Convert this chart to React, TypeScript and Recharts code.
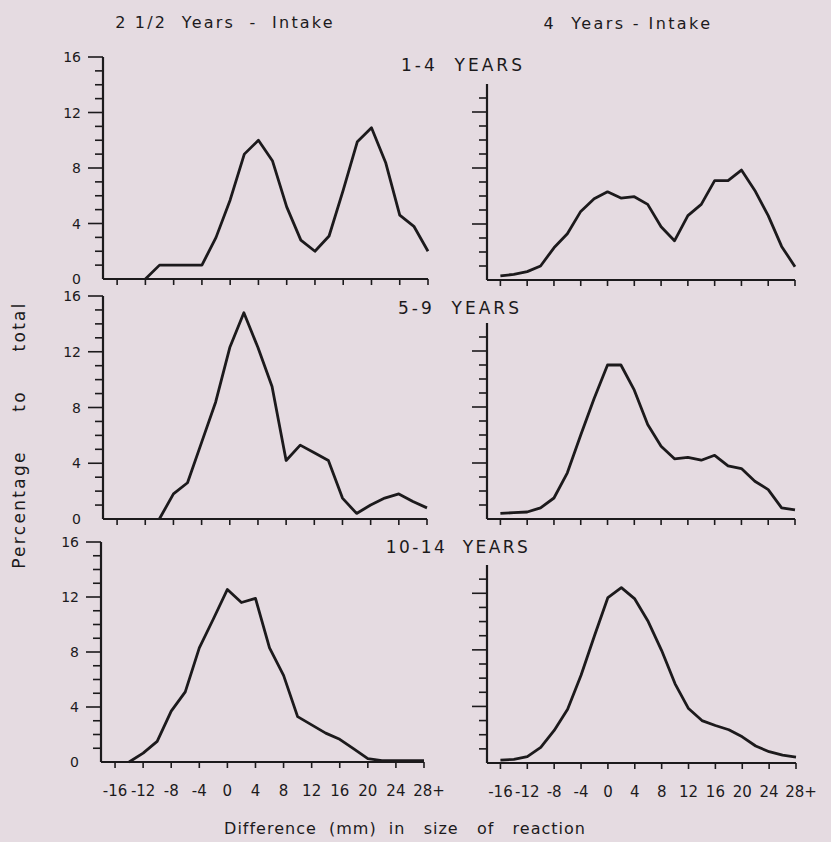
import React from 'react';
import { LineChart, Line, XAxis, YAxis } from 'recharts';

// difference (mm) in size of reaction, 2 mm steps; last bin is "28+"
const DIFF_MM = [-16, -14, -12, -10, -8, -6, -4, -2, 0, 2, 4, 6, 8, 10, 12, 14, 16, 18, 20, 22, 24, 26, 28];

// percentage to total (null = no line drawn there)
const INTAKE_2H_AGE_1_4 = [null, null, 0, 1, 1, 1, 1, 3, 5.7, 9, 10, 8.5, 5.2, 2.8, 2, 3.1, 6.4, 9.9, 10.9, 8.4, 4.6, 3.8, 2];
const INTAKE_4_AGE_1_4 = [0.3, 0.4, 0.6, 1.0, 2.3, 3.3, 4.9, 5.8, 6.3, 5.85, 5.95, 5.4, 3.8, 2.8, 4.6, 5.4, 7.1, 7.1, 7.85, 6.4, 4.6, 2.4, 0.95];
const INTAKE_2H_AGE_5_9 = [null, null, null, 0, 1.8, 2.6, 5.5, 8.4, 12.3, 14.8, 12.3, 9.5, 4.2, 5.3, 4.75, 4.2, 1.5, 0.4, 1.0, 1.5, 1.8, 1.25, 0.8];
const INTAKE_4_AGE_5_9 = [0.4, 0.45, 0.5, 0.8, 1.5, 3.3, 6.0, 8.6, 11.0, 11.0, 9.2, 6.75, 5.2, 4.3, 4.4, 4.2, 4.55, 3.8, 3.6, 2.7, 2.1, 0.8, 0.65];
const INTAKE_2H_AGE_10_14 = [null, 0, 0.65, 1.5, 3.7, 5.1, 8.3, 10.4, 12.55, 11.6, 11.9, 8.3, 6.3, 3.3, 2.7, 2.1, 1.65, 0.95, 0.25, 0.1, 0.1, 0.1, 0.1];
const INTAKE_4_AGE_10_14 = [0.2, 0.26, 0.45, 1.1, 2.3, 3.8, 6.2, 9.0, 11.7, 12.4, 11.6, 10.0, 7.95, 5.6, 3.85, 3.0, 2.65, 2.35, 1.85, 1.2, 0.8, 0.55, 0.42];

const X_TICKS = [-16, -12, -8, -4, 0, 4, 8, 12, 16, 20, 24, 28];
const Y_TICKS_LEFT = [0, 1, 2, 3, 4, 5, 6, 7, 8, 9, 10, 11, 12, 13, 14, 15, 16];
const Y_TICKS_RIGHT = [1, 2, 3, 4, 5, 6, 7, 8, 9, 10, 11, 12, 13];

const INK = '#1c1a1c';
const PAPER = '#e5dbe1';
const FONT = '"DejaVu Sans", sans-serif';

const toRows = (vals: (number | null)[]) => DIFF_MM.map((d, i) => ({ d, v: vals[i] }));

const makeYTick = (labels: boolean) => (props: any) => {
  const { x, y, payload } = props;
  const v = payload.value;
  const major = v % 4 === 0;
  const len = major ? 15 : 8;
  return (
    <g>
      {v !== 0 && <line x1={x - len} x2={x} y1={y} y2={y} stroke={INK} strokeWidth={1.6} />}
      {labels && major && (
        <text x={x - 22} y={y} dy={5} textAnchor="end" fill={INK} fontSize={14} fontFamily={FONT}>
          {v}
        </text>
      )}
    </g>
  );
};

const makeXTick = (labels: boolean) => (props: any) => {
  const { x, y, payload } = props;
  const v = payload.value;
  return (
    <g>
      <line x1={x} x2={x} y1={y} y2={y + 6} stroke={INK} strokeWidth={1.6} />
      {labels && (
        <text x={v === 28 ? x + 5 : x} y={y + 34} textAnchor="middle" fill={INK} fontSize={15} fontFamily={FONT}>
          {v === 28 ? '28+' : String(v)}
        </text>
      )}
    </g>
  );
};

const panels = [
  { id: 'tl', vals: INTAKE_2H_AGE_1_4, left: 103, top: 57, w: 325, h: 222, yMax: 16, isLeft: true, bottom: false },
  { id: 'tr', vals: INTAKE_4_AGE_1_4, left: 487, top: 84, w: 308, h: 196, yMax: 14, isLeft: false, bottom: false },
  { id: 'ml', vals: INTAKE_2H_AGE_5_9, left: 103, top: 296, w: 324, h: 223, yMax: 16, isLeft: true, bottom: false },
  { id: 'mr', vals: INTAKE_4_AGE_5_9, left: 487, top: 323, w: 308, h: 196, yMax: 14, isLeft: false, bottom: false },
  { id: 'bl', vals: INTAKE_2H_AGE_10_14, left: 101, top: 542, w: 323, h: 220, yMax: 16, isLeft: true, bottom: true },
  { id: 'br', vals: INTAKE_4_AGE_10_14, left: 487, top: 565, w: 309, h: 198, yMax: 14, isLeft: false, bottom: true },
];

const labels = [
  { text: '2 1/2  Years  -  Intake', cx: 225, cy: 23, size: 16, ls: 2.2 },
  { text: '4  Years - Intake', cx: 628, cy: 24, size: 16, ls: 2.4 },
  { text: '1-4  YEARS', cx: 463, cy: 65, size: 17, ls: 3 },
  { text: '5-9  YEARS', cx: 460, cy: 308, size: 17, ls: 3 },
  { text: '10-14  YEARS', cx: 458, cy: 547, size: 17, ls: 2.4 },
  { text: 'Difference  (mm)  in   size   of   reaction', cx: 405, cy: 829, size: 16, ls: 1 },
];

const ML = 60;
const MT = 10;
const MR = 30;
const XH = 45;

export default function App() {
  return (
    <div style={{ position: 'absolute', left: 0, top: 0, width: 831, height: 842, background: PAPER, overflow: 'hidden' }}>
      {panels.map((p) => (
        <div key={p.id} style={{ position: 'absolute', left: p.left - ML, top: p.top - MT }}>
          <LineChart
            width={p.w + ML + MR}
            height={p.h + MT + XH}
            data={toRows(p.vals)}
            margin={{ top: MT, right: MR, bottom: 0, left: 0 }}
            style={{ overflow: 'visible' }}
          >
            <XAxis
              dataKey="d"
              type="number"
              domain={[-18, 28]}
              ticks={X_TICKS}
              interval={0}
              height={XH}
              tickSize={0}
              tickMargin={0}
              tickLine={false}
              axisLine={{ stroke: INK, strokeWidth: 2.2 }}
              tick={makeXTick(p.bottom)}
            />
            <YAxis
              type="number"
              domain={[0, p.yMax]}
              ticks={p.isLeft ? Y_TICKS_LEFT : Y_TICKS_RIGHT}
              interval={0}
              width={ML}
              tickSize={0}
              tickMargin={0}
              tickLine={false}
              axisLine={{ stroke: INK, strokeWidth: 2.2 }}
              tick={makeYTick(p.isLeft)}
            />
            <Line
              type="linear"
              dataKey="v"
              stroke={INK}
              strokeWidth={2.8}
              strokeLinejoin="round"
              dot={false}
              activeDot={false}
              isAnimationActive={false}
            />
          </LineChart>
        </div>
      ))}
      {labels.map((l) => (
        <div
          key={l.text}
          style={{
            position: 'absolute',
            left: l.cx,
            top: l.cy,
            transform: 'translate(-50%, -50%)',
            whiteSpace: 'pre',
            fontFamily: FONT,
            fontSize: l.size,
            letterSpacing: l.ls,
            color: INK,
            lineHeight: 1,
          }}
        >
          {l.text}
        </div>
      ))}
      <div
        style={{
          position: 'absolute',
          left: 19,
          top: 435,
          transform: 'translate(-50%, -50%) rotate(-90deg)',
          whiteSpace: 'pre',
          fontFamily: FONT,
          fontSize: 17,
          letterSpacing: 2.3,
          color: INK,
          lineHeight: 1,
        }}
      >
        {'Percentage     to     total'}
      </div>
    </div>
  );
}
